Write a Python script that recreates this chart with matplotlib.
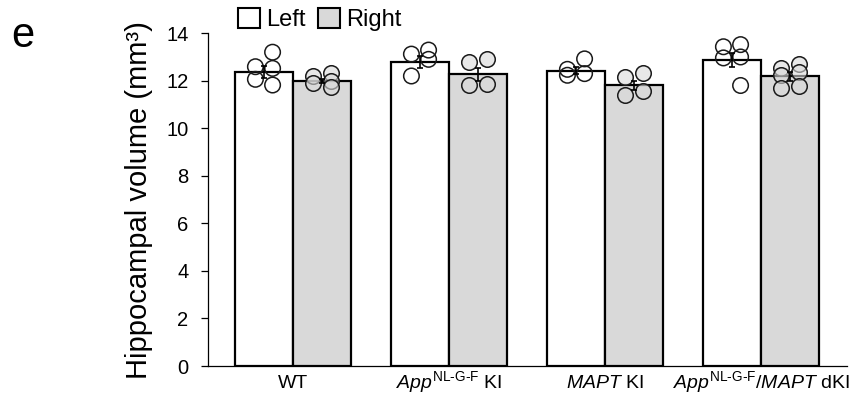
import numpy as np
import matplotlib
matplotlib.use('Agg')
import matplotlib.pyplot as plt
from matplotlib.patches import Patch

plt.rcParams['font.family'] = ['Liberation Sans', 'DejaVu Sans']
plt.rcParams['mathtext.fontset'] = 'custom'
plt.rcParams['mathtext.rm'] = 'Liberation Sans'
plt.rcParams['mathtext.it'] = 'Liberation Sans:italic'
plt.rcParams['mathtext.bf'] = 'Liberation Sans:bold'

# hippocampal volume (mm3), left / right hemisphere
genotypes = ['WT',
             r'$\mathit{App}^{\mathrm{NL‐G‐F}}$ KI',
             r'$\mathit{MAPT}$ KI',
             r'$\mathit{App}^{\mathrm{NL‐G‐F}}\mathit{/MAPT}$ dKI']

left_mean = [12.38, 12.78, 12.43, 12.86]
right_mean = [11.99, 12.27, 11.80, 12.18]
left_sem = [0.25, 0.24, 0.16, 0.30]
right_sem = [0.10, 0.28, 0.21, 0.17]

# individual animals
left_pts = [[13.20, 12.59, 12.52, 12.06, 11.82],
            [13.29, 13.12, 12.90, 12.20],
            [12.92, 12.48, 12.30, 12.23],
            [13.52, 13.43, 13.00, 12.96, 11.80]]
right_pts = [[12.31, 12.20, 11.99, 11.89, 11.72],
             [12.90, 12.78, 11.87, 11.84],
             [12.31, 12.14, 11.58, 11.40],
             [12.70, 12.52, 12.38, 12.24, 11.78, 11.68]]

gray = '#d9d9d9'
w = 0.372
x = np.arange(len(genotypes))

fig = plt.figure(figsize=(8.67, 4.0), dpi=100)
ax = fig.add_axes([0.2399, 0.085, 0.737, 0.832])

ax.bar(x - w / 2, left_mean, w, color='white', edgecolor='black', linewidth=1.6, zorder=2)
ax.bar(x + w / 2, right_mean, w, color=gray, edgecolor='black', linewidth=1.6, zorder=2)

def scatter_pts(xc, pts, face):
    pts = np.asarray(pts)
    side = np.where(np.arange(len(pts)) % 2 == 0, 1, -1)
    ax.scatter(xc + side * 0.055, pts, s=125, facecolors=face,
               edgecolors='#1a1a1a', linewidths=1.1, zorder=3)

for i in range(len(genotypes)):
    scatter_pts(x[i] - w / 2, left_pts[i], 'none')
    scatter_pts(x[i] + w / 2, right_pts[i], (0.85, 0.85, 0.85, 0.6))

ax.errorbar(x - w / 2, left_mean, yerr=left_sem, fmt='none', ecolor='black',
            elinewidth=1.2, capsize=2.5, capthick=1.2, zorder=4)
ax.errorbar(x + w / 2, right_mean, yerr=right_sem, fmt='none', ecolor='black',
            elinewidth=1.2, capsize=2.5, capthick=1.2, zorder=4)

ax.set_xlim(-0.545, 3.551)
ax.set_ylim(0, 14)
ax.set_yticks(np.arange(0, 15, 2))
ax.set_xticks(x)
ax.set_xticklabels(genotypes, fontsize=14, va='baseline')
ax.tick_params(axis='x', length=0, pad=16)
ax.tick_params(axis='y', length=5, width=0.9, pad=9, labelsize=14.5, direction='out')
for s in ['top', 'right']:
    ax.spines[s].set_visible(False)
ax.spines['left'].set_linewidth(0.9)
ax.spines['bottom'].set_linewidth(0.9)

fig.text(139 / 867, 0.501, 'Hippocampal volume (mm³)', rotation=90,
         ha='center', va='center', fontsize=21)
fig.text(23 / 867, 1 - 46.7 / 400, 'e', ha='center', va='baseline', fontsize=30)

handles = [Patch(facecolor='white', edgecolor='black', linewidth=1.5, label='Left'),
           Patch(facecolor=gray, edgecolor='black', linewidth=1.5, label='Right')]
fig.legend(handles=handles, loc='upper left', bbox_to_anchor=(238 / 867, 1 - 8 / 400),
           ncol=2, frameon=False, fontsize=17, handlelength=0.95, handleheight=0.95,
           handletextpad=0.25, columnspacing=0.5, borderpad=0, borderaxespad=0)

plt.savefig('out.png', dpi=100)
